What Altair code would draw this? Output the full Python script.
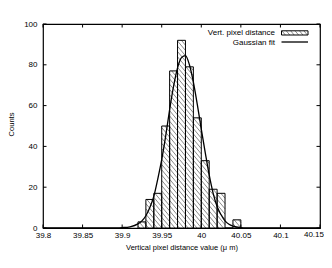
import math
import altair as alt
import pandas as pd

# ---------------- data ----------------
bin_left = [39.92, 39.93, 39.94, 39.95, 39.96, 39.97, 39.98, 39.99,
            40.00, 40.01, 40.02, 40.03, 40.04]
counts = [3, 14, 17, 50, 77, 92, 79, 54, 33, 19, 17, 0, 4]
bin_width = 0.01

fit_x = [39.80, 39.88, 39.89, 39.90, 39.91, 39.92, 39.925, 39.93, 39.935,
         39.94, 39.945, 39.95, 39.955, 39.96, 39.965, 39.97, 39.975, 39.98,
         39.985, 39.99, 39.995, 40.00, 40.005, 40.01, 40.015, 40.02, 40.025,
         40.03, 40.035, 40.04, 40.05, 40.06, 40.07, 40.15]
fit_y = [0, 0, 0.05, 0.2, 0.6, 2.0, 3.5, 6.0, 10.0,
         15.5, 24.0, 33.5, 45.0, 58.0, 69.5, 78.5, 83.5, 84.5,
         80.0, 71.5, 60.5, 48.5, 37.0, 26.0, 17.0, 10.5, 6.5,
         3.5, 1.8, 0.9, 0.2, 0.05, 0, 0]

x_ticks = [39.8, 39.85, 39.9, 39.95, 40.0, 40.05, 40.1, 40.15]
y_ticks = [0, 20, 40, 60, 80, 100]

legend_labels = ["Vert. pixel distance", "Gaussian fit"]
x_title = "Vertical pixel distance value (\u03bc m)"
y_title = "Counts"

# ---------------- layout / style ----------------
W, H = 277, 204
XMIN, XMAX = 39.8, 40.15
YMIN, YMAX = 0, 100
FONT = "Liberation Sans"
SLOPE, GAP = 1.2, 4.4
TICK = 3.5

sx = W / (XMAX - XMIN)
sy = H / (YMAX - YMIN)


def hatch(x0, x1, y0, y1):
    """diagonal '\\' hatch segments inside a rectangle (pixel coords, y up)"""
    step = SLOPE * GAP
    k0 = math.ceil((y0 + SLOPE * x0) / step)
    k1 = math.floor((y1 + SLOPE * x1) / step)
    out = []
    for k in range(k0, k1 + 1):
        c = k * step
        xa = max(x0, (c - y1) / SLOPE)
        xb = min(x1, (c - y0) / SLOPE)
        if xb > xa:
            out.append((xa, c - SLOPE * xa, xb, c - SLOPE * xb))
    return out


bars = pd.DataFrame({
    "x": bin_left,
    "x2": [b + bin_width for b in bin_left],
    "count": counts,
})

hrows = []
for b, c in zip(bin_left, counts):
    if c <= 0:
        continue
    X0 = (b - XMIN) * sx
    X1 = (b + bin_width - XMIN) * sx
    for xa, ya, xb, yb in hatch(X0, X1, 0, c * sy):
        hrows.append({"x": XMIN + xa / sx, "x2": XMIN + xb / sx,
                      "y": ya / sy, "y2": yb / sy})
hatch_df = pd.DataFrame(hrows)

fit = pd.DataFrame({"x": fit_x, "y": fit_y})

xscale = alt.Scale(domain=[XMIN, XMAX], nice=False, zero=False)
yscale = alt.Scale(domain=[YMIN, YMAX], nice=False, zero=False)

# the last x label is drawn as a text mark (shifted to stay inside the page)
xaxis = alt.Axis(values=x_ticks[:-1], format="~g", ticks=False, domain=False,
                 grid=False, labelPadding=3, labelFontSize=8, labelFont=FONT,
                 labelColor="black", labelFlush=False, labelOverlap=False,
                 title=x_title, titleFont=FONT, titleFontSize=7.5,
                 titleFontWeight="normal", titleColor="black",
                 titleY=19, titleBaseline="middle")
yaxis = alt.Axis(values=y_ticks, ticks=False, domain=False, grid=False,
                 labelPadding=6, labelFontSize=8, labelFont=FONT,
                 labelColor="black", labelFlush=False, labelOverlap=False,
                 title=y_title, titleFont=FONT, titleFontSize=7.5,
                 titleFontWeight="normal", titleColor="black",
                 titleX=-32, titleY=100, titleAngle=270,
                 titleBaseline="middle", titleAlign="center")


def X(f):
    return alt.X(f, type="quantitative", scale=xscale, axis=xaxis)


def Y(f):
    return alt.Y(f, type="quantitative", scale=yscale, axis=yaxis)


bar_fill = alt.Chart(bars).mark_rect(fill="white", stroke=None).encode(
    x=X("x"), x2="x2", y=Y("count"), y2=alt.datum(0))

hatch_layer = alt.Chart(hatch_df).mark_rule(
    color="#555555", strokeWidth=0.7).encode(
    x=X("x"), x2="x2", y=Y("y"), y2="y2")

bar_outline = alt.Chart(bars).mark_rect(
    fill=None, stroke="black", strokeWidth=1).encode(
    x=X("x"), x2="x2", y=Y("count"), y2=alt.datum(0))

curve = alt.Chart(fit).mark_line(
    color="black", strokeWidth=1.3, interpolate="monotone").encode(
    x=X("x"), y=Y("y"))

xt = pd.DataFrame({"v": x_ticks})
yt = pd.DataFrame({"v": y_ticks})
tick_b = alt.Chart(xt).mark_rule(color="black", strokeWidth=1).encode(
    x=X("v"), y=alt.value(H), y2=alt.value(H - TICK))
tick_t = alt.Chart(xt).mark_rule(color="black", strokeWidth=1).encode(
    x=X("v"), y=alt.value(0), y2=alt.value(TICK))
tick_l = alt.Chart(yt).mark_rule(color="black", strokeWidth=1).encode(
    y=Y("v"), x=alt.value(0), x2=alt.value(TICK))
tick_r = alt.Chart(yt).mark_rule(color="black", strokeWidth=1).encode(
    y=Y("v"), x=alt.value(W), x2=alt.value(W - TICK))

last_lab = alt.Chart(pd.DataFrame({"v": [x_ticks[-1]],
                                   "t": [f"{x_ticks[-1]:g}"]})).mark_text(
    align="right", baseline="top", font=FONT, fontSize=8, color="black", dx=4
).encode(x=X("v"), y=alt.value(H + 3), text="t:N")

# ---------------- legend (drawn by hand, gnuplot style) ----------------
LX_TEXT = 232
SW_X0, SW_X1 = 238.5, 265
SW_Y0, SW_Y1 = 6.8, 11.0
ROW1, ROW2 = 9, 19

leg_text1 = alt.Chart(pd.DataFrame({"t": [legend_labels[0]]})).mark_text(
    align="right", baseline="middle", font=FONT, fontSize=8, color="black"
).encode(x=alt.value(LX_TEXT), y=alt.value(ROW1), text="t:N")
leg_text2 = alt.Chart(pd.DataFrame({"t": [legend_labels[1]]})).mark_text(
    align="right", baseline="middle", font=FONT, fontSize=8, color="black"
).encode(x=alt.value(LX_TEXT), y=alt.value(ROW2), text="t:N")

sw_rows = [{"x": xa, "x2": xb, "y": -ya, "y2": -yb}
           for xa, ya, xb, yb in hatch(SW_X0, SW_X1, -SW_Y1, -SW_Y0)]
sw_hatch = alt.Chart(pd.DataFrame(sw_rows)).mark_rule(
    color="#555555", strokeWidth=0.7).encode(
    x=alt.X("x:Q", scale=None), x2="x2:Q",
    y=alt.Y("y:Q", scale=None), y2="y2:Q")
sw_box = alt.Chart(pd.DataFrame({"t": [legend_labels[0]]})).mark_rect(
    fill=None, stroke="black", strokeWidth=1).encode(
    x=alt.value(SW_X0), x2=alt.value(SW_X1),
    y=alt.value(SW_Y0), y2=alt.value(SW_Y1))
sw_line = alt.Chart(pd.DataFrame({"t": [legend_labels[1]]})).mark_rule(
    color="black", strokeWidth=1.3).encode(
    x=alt.value(SW_X0), x2=alt.value(SW_X1), y=alt.value(ROW2 - 1))

chart = alt.layer(
    bar_fill, hatch_layer, bar_outline, curve,
    tick_b, tick_t, tick_l, tick_r, last_lab,
    leg_text1, leg_text2, sw_hatch, sw_box, sw_line,
).properties(
    width=W, height=H,
    autosize=alt.AutoSizeParams(type="none"),
    padding={"left": 35, "top": 16, "right": 4, "bottom": 32},
).configure_view(stroke="black", strokeWidth=1.2)

chart.save("out.html", embed_options={"renderer": "svg", "actions": False})
